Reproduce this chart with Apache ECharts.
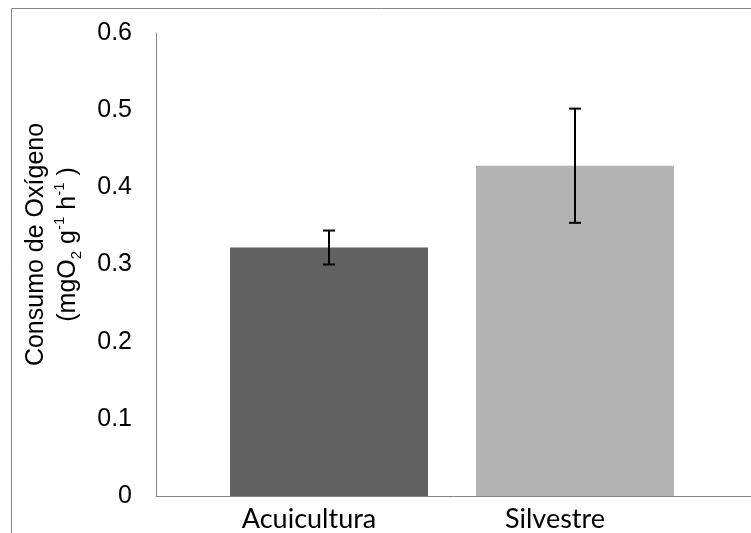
<!DOCTYPE html>
<html>
<head>
<meta charset="utf-8">
<script src="https://cdn.jsdelivr.net/npm/echarts@6/dist/echarts.min.js"></script>
<style>
html,body{margin:0;padding:0;background:#fff;}
#chart{width:751px;height:533px;}
</style>
</head>
<body>
<div id="chart"></div>
<script>
var categories = ['Acuicultura', 'Silvestre'];
var means = [0.322, 0.428];
var errors = [0.022, 0.074];
var barColors = ['#616161', '#b3b3b3'];
var yMin = 0, yMax = 0.6, yStep = 0.1;

var chart = echarts.init(document.getElementById('chart'), null, {renderer: 'canvas'});

var barData = means.map(function (v, i) {
  return {value: v, itemStyle: {color: barColors[i]}};
});
var errData = means.map(function (v, i) {
  return [i, v - errors[i], v + errors[i]];
});

var axisGray = '#868686';

var option = {
  backgroundColor: '#fff',
  animation: false,
  graphic: [{
    type: 'rect',
    left: 9, top: 6,
    shape: {x: 0, y: 0, width: 800, height: 600},
    style: {fill: 'none', stroke: axisGray, lineWidth: 1},
    silent: true
  }],
  grid: [
    {left: 156, right: 0, top: 33, bottom: 37},
    {left: 206, right: 53, top: 33, bottom: 37}
  ],
  xAxis: [
    {
      gridIndex: 0, type: 'value', min: 0, max: 1,
      axisLine: {show: true, lineStyle: {color: axisGray, width: 1}},
      axisTick: {show: false}, axisLabel: {show: false}, splitLine: {show: false}
    },
    {
      gridIndex: 1, type: 'category', data: categories,
      axisLine: {show: false}, axisTick: {show: false}, splitLine: {show: false},
      axisLabel: {
        color: '#000', fontFamily: 'Lato', fontSize: 27, margin: 10,
        padding: [0, 40, 0, 0]
      }
    }
  ],
  yAxis: [
    {
      gridIndex: 0, type: 'value', min: yMin, max: yMax, interval: yStep,
      axisLine: {show: true, lineStyle: {color: axisGray, width: 1}},
      axisTick: {show: false}, splitLine: {show: false},
      axisLabel: {color: '#000', fontFamily: 'Liberation Sans', fontSize: 25, margin: 24},
      name: '{a|Consumo de Oxígeno}\n{a|(mgO}{sub|2}{a| g}{sup|-1}{a| h}{sup|-1}{a| )}',
      nameLocation: 'middle', nameRotate: 90, nameGap: 72,
      nameTextStyle: {
        padding: [0, 0, 0, 40],
        rich: {
          a: {fontFamily: 'Liberation Sans', fontSize: 25, color: '#000', lineHeight: 32},
          sub: {fontFamily: 'Liberation Sans', fontSize: 15, color: '#000', lineHeight: 32, verticalAlign: 'bottom'},
          sup: {fontFamily: 'Liberation Sans', fontSize: 15, color: '#000', lineHeight: 32, verticalAlign: 'top'}
        }
      }
    },
    {
      gridIndex: 1, type: 'value', min: yMin, max: yMax, interval: yStep, show: false,
      splitLine: {show: false}
    }
  ],
  series: [
    {
      type: 'bar', xAxisIndex: 1, yAxisIndex: 1,
      data: barData, barCategoryGap: '19.5%', z: 2
    },
    {
      type: 'custom', xAxisIndex: 1, yAxisIndex: 1, z: 5,
      data: errData,
      renderItem: function (params, api) {
        var x = api.value(0);
        var lo = api.coord([x, api.value(1)]);
        var hi = api.coord([x, api.value(2)]);
        var hw = 6;
        var st = {stroke: '#000', lineWidth: 2};
        return {
          type: 'group',
          children: [
            {type: 'line', shape: {x1: lo[0], y1: lo[1], x2: hi[0], y2: hi[1]}, style: st},
            {type: 'line', shape: {x1: hi[0] - hw, y1: hi[1], x2: hi[0] + hw, y2: hi[1]}, style: st},
            {type: 'line', shape: {x1: lo[0] - hw, y1: lo[1], x2: lo[0] + hw, y2: lo[1]}, style: st}
          ]
        };
      }
    }
  ]
};
chart.setOption(option);
</script>
</body>
</html>
